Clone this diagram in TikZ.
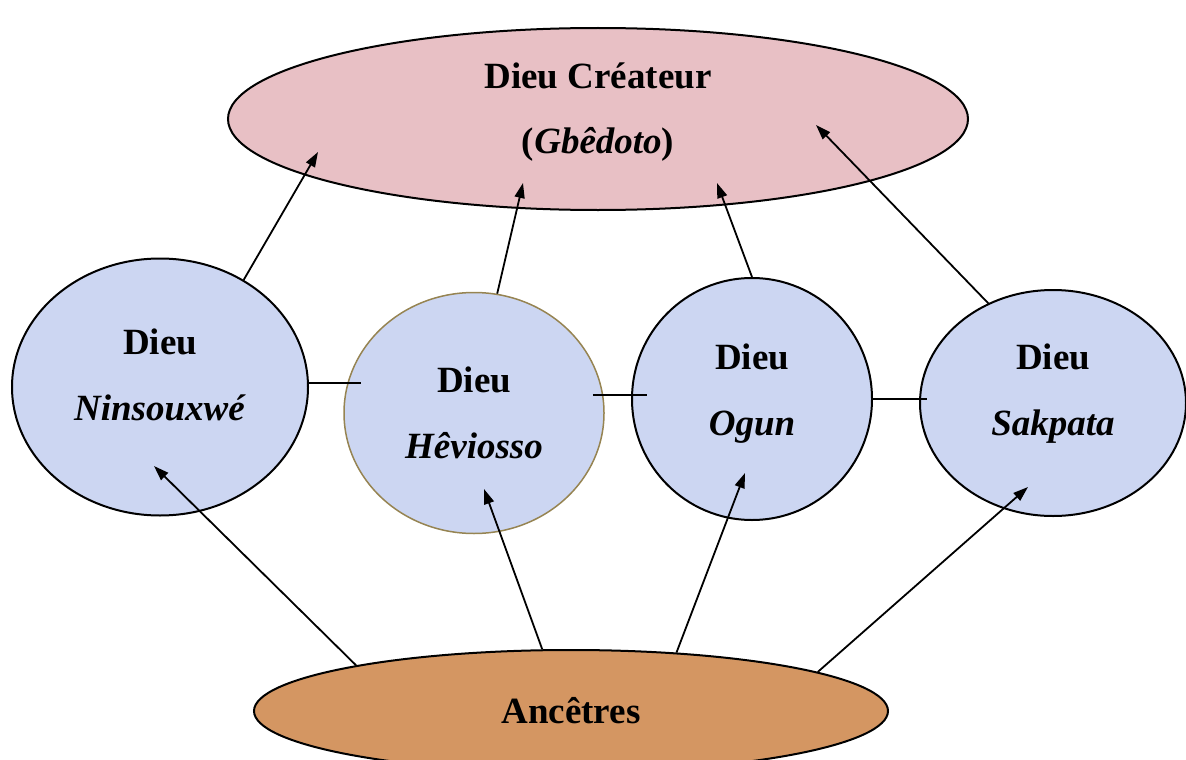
\documentclass[tikz,border=0pt]{standalone}
\usepackage{fontspec}
\setmainfont{Liberation Serif}
\usetikzlibrary{shapes.geometric,arrows.meta}
\definecolor{godpink}{RGB}{232,192,197}
\definecolor{godblue}{RGB}{204,214,242}
\definecolor{wood}{RGB}{212,150,98}
\definecolor{olive}{RGB}{150,132,82}
\begin{document}
\begin{tikzpicture}[x=1pt,y=-1pt,
  every node/.style={font=\fontsize{37}{44}\selectfont\bfseries},
  god/.style={ellipse,draw,line width=2pt,fill=godblue,inner sep=0pt,align=center},
  arr/.style={-{Triangle[length=15pt,width=10pt]},line width=1.8pt}]
  \useasboundingbox (0,0) rectangle (1186,760);
  \node[ellipse,draw,line width=2pt,fill=godpink,minimum width=740pt,minimum height=182pt,align=center,text depth=21pt]
    (createur) at (598,119) {Dieu Créateur\\[21pt](\textit{Gbêdoto})};
  \node[god,minimum width=296pt,minimum height=257pt,text depth=24pt] (nin) at (160,387) {Dieu\\[22pt]\textit{Ninsouxwé}};
  \node[god,draw=olive,line width=1.5pt,minimum width=260pt,minimum height=241pt] (hev) at (474,413) {Dieu\\[22pt]\textit{Hêviosso}};
  \node[god,minimum width=240pt,minimum height=242pt,text depth=18pt] (ogun) at (752,399) {Dieu\\[22pt]\textit{Ogun}};
  \node[god,minimum width=266pt,minimum height=226pt,text depth=26pt] (sak) at (1053,403) {Dieu\\[22pt]\textit{Sakpata}};
  \node[ellipse,draw,line width=2pt,fill=wood,minimum width=634pt,minimum height=122pt]
    (anc) at (571,711) {Ancêtres};
  % points inside the nodes
  \coordinate (c1) at (318,152);
  \coordinate (c2) at (523,183);
  \coordinate (c3) at (717,183);
  \coordinate (c4) at (816,125);
  \coordinate (g1) at (154,466);
  \coordinate (g2) at (484,489);
  \coordinate (g3) at (745,473);
  \coordinate (g4) at (1028,487);
  % links between the gods
  \draw[line width=1.8pt] (nin.east |- 0,383) -- ([xshift=18pt]hev.west |- 0,383);
  \draw[line width=1.8pt] ([xshift=-12pt]hev.east |- 0,395) -- ([xshift=16pt]ogun.west |- 0,395);
  \draw[line width=1.8pt] (ogun.east |- 0,399) -- ([xshift=8pt]sak.west |- 0,399);
  % up to the creator
  \draw[arr] (nin.52) -- (c1);
  \draw[arr] (hev.79) -- (c2);
  \draw[arr] (ogun.90) -- (c3);
  \draw[arr] (sak.123) -- (c4);
  % from the ancestors
  \draw[arr] (anc.168) -- (g1);
  \draw[arr] (anc.115) -- (g2);
  \draw[arr] (anc.29) -- (g3);
  \draw[arr] (anc.9) -- (g4);
\end{tikzpicture}
\end{document}
